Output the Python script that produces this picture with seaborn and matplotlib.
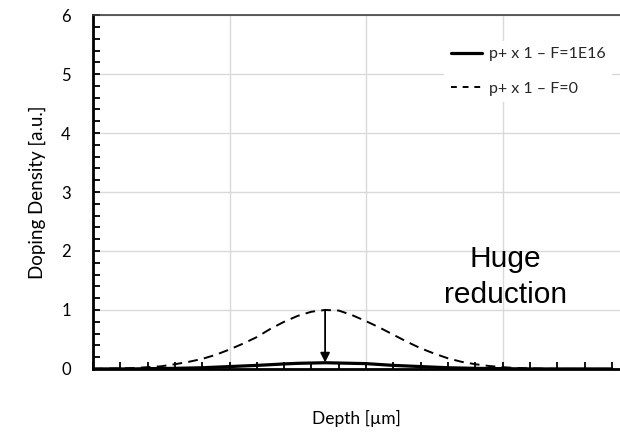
import numpy as np
import pandas as pd
import matplotlib
matplotlib.use("Agg")
import matplotlib.pyplot as plt
from matplotlib.ticker import MultipleLocator, NullFormatter
import seaborn as sns

# ---- data (depth in grid units, density in a.u.) ----
depth_ref = [0.0, 0.1, 0.2, 0.3, 0.4, 0.5, 0.6, 0.7, 0.8, 0.9, 1.0, 1.1, 1.2, 1.3,
             1.4, 1.5, 1.6, 1.7, 1.8, 1.9, 2.0, 2.1, 2.2, 2.3, 2.4, 2.5, 2.6, 2.7,
             2.8, 2.9, 3.0, 3.1, 3.2, 3.3, 3.4, 3.5, 3.6, 3.7, 3.8]
density_f0 = [0.0, 0.005, 0.01, 0.015, 0.03, 0.045, 0.08, 0.12, 0.17, 0.24, 0.33,
              0.43, 0.54, 0.68, 0.80, 0.90, 0.97, 1.00, 0.99, 0.91, 0.81, 0.70,
              0.58, 0.46, 0.35, 0.26, 0.18, 0.12, 0.08, 0.05, 0.03, 0.015, 0.01,
              0.005, 0.0, 0.0, 0.0, 0.0, 0.0]
density_f1e16 = [0.0, 0.0, 0.0, 0.0, 0.005, 0.007, 0.01, 0.015, 0.02, 0.03, 0.04,
                 0.05, 0.06, 0.072, 0.085, 0.095, 0.1, 0.105, 0.1, 0.095, 0.09,
                 0.075, 0.06, 0.05, 0.04, 0.03, 0.02, 0.015, 0.01, 0.007, 0.005,
                 0.002, 0.0, 0.0, 0.0, 0.0, 0.0, 0.0, 0.0]
label_f1e16 = "p+ x 1 \u2013 F=1E16"
label_f0 = "p+ x 1 \u2013 F=0"
arrow_x = 1.7
arrow_from = 1.0
arrow_to = 0.11
annotation = "Huge\nreduction"
y_ticks = [0, 1, 2, 3, 4, 5, 6]
x_major = [0, 1, 2, 3]

sns.set_theme(style="white")
plt.rcParams['font.family'] = ['Lato', 'DejaVu Sans']

fig = plt.figure(figsize=(6.2, 4.32), dpi=100)
ax = fig.add_axes([0.15, 0.146, 0.85, 0.819])

df = pd.DataFrame({"Depth": depth_ref, "F0": density_f0, "F1E16": density_f1e16})

sns.lineplot(data=df, x="Depth", y="F1E16", ax=ax, color="black", lw=2.3,
             label=label_f1e16, zorder=4)
sns.lineplot(data=df, x="Depth", y="F0", ax=ax, color="black", lw=1.4,
             dashes=False, label=label_f0, zorder=3)
ax.lines[-1].set_dashes((5, 3.2))

ax.set_xlim(0, 3.86)
ax.set_ylim(0, 6)
ax.set_yticks(y_ticks)
ax.set_yticklabels([str(v) for v in y_ticks])
ax.set_xticks(x_major)
ax.xaxis.set_major_formatter(NullFormatter())
ax.xaxis.set_minor_locator(MultipleLocator(0.2))
ax.yaxis.set_minor_locator(MultipleLocator(0.2))
ax.tick_params(axis='both', which='both', direction='in', length=5, width=1.3,
               color='black')
ax.tick_params(axis='y', which='major', labelsize=12, pad=16, labelcolor='black')
ax.tick_params(axis='x', which='both', top=False, bottom=True)
ax.tick_params(axis='y', which='both', left=True, right=False)

ax.grid(True, which='major', color='#d9d9d9', lw=1.0)
ax.set_axisbelow(True)

for s in ['left', 'bottom']:
    ax.spines[s].set_color('black')
    ax.spines[s].set_linewidth(2.0)
ax.spines['top'].set_color('#404040')
ax.spines['top'].set_linewidth(1.2)
ax.spines['right'].set_visible(False)

ax.set_xlabel("Depth [\u00b5m]", fontsize=12.5, labelpad=26, color='black')
ax.set_ylabel("Doping Density [a.u.]", fontsize=13.5, labelpad=11, color='black')

ax.annotate("", xy=(arrow_x, arrow_to), xytext=(arrow_x, arrow_from),
            arrowprops=dict(arrowstyle='-|>', color='black', lw=1.3,
                            mutation_scale=14, shrinkA=0, shrinkB=0), zorder=5)
ax.text(3.02, 1.56, annotation, ha='center', va='center', fontsize=21.5,
        family=['Liberation Sans', 'DejaVu Sans'], linespacing=1.35, color='black')

leg = ax.legend(loc='upper right', bbox_to_anchor=(1.0, 0.95), frameon=True,
                handlelength=2.0, labelspacing=1.25, fontsize=11.5,
                borderpad=0.4, handletextpad=0.4)
leg.get_frame().set_facecolor('white')
leg.get_frame().set_edgecolor('none')
leg.get_frame().set_alpha(1.0)
leg.legend_handles[1].set_dashes((3, 3))

fig.savefig("out.png", dpi=100)
